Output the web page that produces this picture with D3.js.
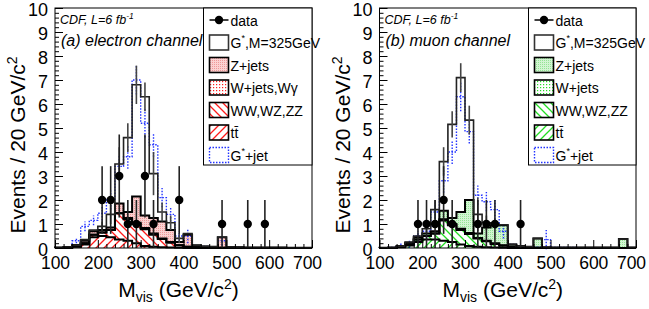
<!DOCTYPE html>
<html>
<head>
<meta charset="utf-8">
<script src="https://cdn.jsdelivr.net/npm/d3@7"></script>
<style>
  body { margin: 0; background: #fff; }
  svg { font-family: "Liberation Sans", Arial, sans-serif; }
</style>
</head>
<body>
<script>
// bin low edges, 20 GeV/c^2 bins
const binLow = [100,120,140,160,180,200,220,240,260,280,300,320,340,360,380,
                400,420,440,460,480,500,520,540,560,580,600,620,640,660,680];

// (a) electron channel
const eTT   = [0,0.01,0.05,0.15,0.45,0.5,0.45,0.35,0.3,0.2,0.08,0.05,0.03,0.02,0.01,0,0,0,0,0,0,0,0,0,0,0,0,0,0,0];
const eWW   = [0,0,0.02,0.05,0.1,0.15,0.3,1.1,0.9,0.8,0.7,0.5,0.35,0.2,0.1,0.05,0.03,0.02,0.01,0.01,0.01,0.01,0,0,0,0,0,0,0,0];
const eWJ   = [0,0,0,0,0,0,0,0,0.05,0.05,0.05,0.05,0.02,0.03,0,0,0,0,0,0,0,0,0,0,0,0,0,0,0,0];
const eZJ   = [0.02,0.03,0.05,0.1,0.15,0.1,0.1,0.4,0.25,1.1,0.52,0.65,0.7,0.5,0.14,0.5,0.07,0.04,0.04,0.44,0.03,0.02,0.02,0.02,0.02,0.02,0.02,0.01,0.01,0.01];
const eSig  = [0,0,0,0.05,0.05,0.15,0.55,1.65,3.1,4.65,4.95,1.85,0.4,0.3,0.15,0.05,0.02,0.01,0,0,0,0,0,0,0,0,0,0,0,0];
const eSigErr = [0,0,0,0,0,0.2,0.4,0.7,0.6,0.8,0.6,0.9,0.4,0.3,0.2,0,0,0,0,0,0,0,0,0,0,0,0,0,0,0];
const eGjet = [0,0.02,0.3,0.9,1.15,1.45,2.0,3.4,3.8,7.0,5.2,4.3,2.1,1.4,0.5,0.5,0.1,0.06,0.04,0.3,0.02,0.02,0.01,0.01,0.01,0.01,0.01,0.01,0.01,0];
const eGjetErr = [0,0,0.1,0.2,0.2,0.3,0.4,0.5,0.5,0.6,0.6,0.5,0.4,0.3,0.2,0.3,0,0,0,0.2,0,0,0,0,0,0,0,0,0,0];
const eDataM = [210,230,250,270,290,310,330,390,490,550,590];
const eDataN = [2,2,3,1,1,3,1,2,1,1,1];
const eDataErr = [1.41,1.41,1.73,1,1,1.73,1,1.41,1,1,1];

// (b) muon channel
const mTT   = [0,0,0.03,0.1,0.25,0.35,0.35,0.3,0.25,0.15,0.08,0.05,0.03,0.02,0.01,0,0,0,0,0,0,0,0,0,0,0,0,0,0,0];
const mWW   = [0,0,0.02,0.05,0.1,0.15,0.25,0.85,0.7,0.6,0.5,0.35,0.25,0.15,0.08,0.05,0.03,0.02,0.01,0,0,0,0,0,0,0,0,0,0,0];
const mWJ   = [0,0,0,0,0,0,0,0.05,0.05,0.05,0.05,0.02,0.02,0.03,0.02,0,0,0,0,0,0,0,0,0,0,0,0,0,0,0];
const mZJ   = [0.01,0.02,0.03,0.07,0.1,0.1,0.1,0.35,0.25,0.7,1.37,0.18,0.55,0.75,0.84,0.1,0.05,0.03,0.39,0.03,0.02,0.02,0.02,0.02,0.02,0.02,0.02,0.02,0.37,0.02];
const mSig  = [0,0,0,0.03,0.05,0.2,0.9,2.05,3.9,5.6,3.33,0.8,0.2,0.05,0.02,0,0,0,0,0,0,0,0,0,0,0,0,0,0,0];
const mSigErr = [0,0,0,0,0,0.2,0.4,0.6,0.55,0.6,0.6,0.7,0.3,0.2,0,0,0,0,0,0,0,0,0,0,0,0,0,0,0,0];
const mGjet = [0,0.02,0.1,0.15,0.5,0.7,1.5,2.8,4.0,6.3,4.85,2.2,1.93,1.6,0.7,0.15,0.05,0.03,0.03,0.35,0.02,0.02,0.02,0.01,0.01,0.01,0.01,0.01,0.01,0];
const mGjetErr = [0,0,0.1,0.15,0.2,0.3,0.4,0.5,0.5,0.6,0.5,0.4,0.4,0.4,0.3,0,0,0,0,0.4,0,0,0,0,0,0,0,0,0,0];
const mDataM = [190,210,230,250,270,330,350,370,430];
const mDataN = [1,1,1,2,1,1,1,1,1];
const mDataErr = [1,1,1,1.41,1,1,1,1,1];

const yTicks = [0,1,2,3,4,5,6,7,8,9,10];
const xTicks = [100,200,300,400,500,600,700];

const W = 649, H = 309;
const svg = d3.select("body").append("svg").attr("width", W).attr("height", H);
const defs = svg.append("defs");

function makePatterns(id, col, zBg, zDot) {
  const z = defs.append("pattern").attr("id", id + "z").attr("patternUnits", "userSpaceOnUse")
    .attr("width", 2).attr("height", 2);
  z.append("rect").attr("width", 2).attr("height", 2).attr("fill", zBg);
  z.append("rect").attr("width", 1).attr("height", 1).attr("fill", zDot);
  const w = defs.append("pattern").attr("id", id + "w").attr("patternUnits", "userSpaceOnUse")
    .attr("width", 3).attr("height", 3);
  w.append("rect").attr("width", 3).attr("height", 3).attr("fill", "#fff");
  w.append("rect").attr("width", 1.2).attr("height", 1.2).attr("fill", col);
  const b = defs.append("pattern").attr("id", id + "b").attr("patternUnits", "userSpaceOnUse")
    .attr("width", 8).attr("height", 8);
  b.append("path").attr("d", "M-2,6L2,10M0,0L8,8M6,-2L10,2").attr("stroke", col).attr("stroke-width", 1.3);
  const t = defs.append("pattern").attr("id", id + "t").attr("patternUnits", "userSpaceOnUse")
    .attr("width", 8).attr("height", 8);
  t.append("path").attr("d", "M-2,2L2,-2M0,8L8,0M6,10L10,6").attr("stroke", col).attr("stroke-width", 1.3);
}

function drawPanel(cfg) {
  const x = d3.scaleLinear().domain([100, 700]).range([cfg.x0, cfg.x1]);
  const y = d3.scaleLinear().domain([0, 10]).range([248, 8]);
  const g = svg.append("g");
  makePatterns(cfg.id, cfg.col, cfg.zBg, cfg.zDot);

  const keys = ["tt", "ww", "wj", "zj", "sig"];
  const table = binLow.map((lo, i) => ({
    lo, tt: cfg.tt[i], ww: cfg.ww[i], wj: cfg.wj[i], zj: cfg.zj[i], sig: cfg.sig[i]
  }));
  const series = d3.stack().keys(keys)(table);

  const area = d3.area().x(d => x(d.x)).y0(d => y(d.y0)).y1(d => y(d.y1));
  const fills = { tt: `url(#${cfg.id}t)`, ww: `url(#${cfg.id}b)`, wj: `url(#${cfg.id}w)`,
                  zj: `url(#${cfg.id}z)`, sig: "none" };
  const stepPts = vals => {
    const pts = [[100, 0]];
    vals.forEach((v, i) => { pts.push([binLow[i], v]); pts.push([binLow[i] + 20, v]); });
    pts.push([700, 0]);
    return pts;
  };
  const line = d3.line().x(d => x(d[0])).y(d => y(Math.min(d[1], 10)));

  series.forEach(s => {
    if (s.key === "sig") return;
    const pts = [];
    s.forEach((d, i) => {
      pts.push({ x: binLow[i], y0: d[0], y1: d[1] });
      pts.push({ x: binLow[i] + 20, y0: d[0], y1: d[1] });
    });
    g.append("path").attr("d", area(pts)).attr("fill", fills[s.key]);
  });

  // G*+jet, blue dotted
  g.append("path").attr("d", line(stepPts(cfg.gjet)))
    .attr("fill", "none").attr("stroke", "#2233ff").attr("stroke-width", 1.4)
    .attr("stroke-dasharray", "1.5,1.5");
  cfg.gjet.forEach((v, i) => {
    if (!cfg.gjetErr[i]) return;
    g.append("line").attr("x1", x(binLow[i] + 10)).attr("x2", x(binLow[i] + 10))
      .attr("y1", y(v - cfg.gjetErr[i])).attr("y2", y(v + cfg.gjetErr[i]))
      .attr("stroke", "#2233ff").attr("stroke-width", 1.4).attr("stroke-dasharray", "1.5,1.5");
  });

  // stack outlines
  series.forEach(s => {
    const vals = s.map(d => d[1]);
    g.append("path").attr("d", line(stepPts(vals))).attr("fill", "none")
      .attr("stroke", s.key === "sig" ? "#222" : "#000")
      .attr("stroke-width", s.key === "sig" ? 1.6 : 2);
  });
  // signal error bars
  const top = series[series.length - 1];
  top.forEach((d, i) => {
    if (!cfg.sigErr[i]) return;
    g.append("line").attr("x1", x(binLow[i] + 10)).attr("x2", x(binLow[i] + 10))
      .attr("y1", y(d[1] - cfg.sigErr[i])).attr("y2", y(d[1] + cfg.sigErr[i]))
      .attr("stroke", "#444").attr("stroke-width", 1.6);
  });

  // data
  cfg.dataM.forEach((m, i) => {
    const n = cfg.dataN[i], e = cfg.dataErr[i];
    g.append("line").attr("x1", x(m)).attr("x2", x(m))
      .attr("y1", y(Math.max(0, n - e))).attr("y2", y(n + e))
      .attr("stroke", "#222").attr("stroke-width", 1.6);
    g.append("circle").attr("cx", x(m)).attr("cy", y(n)).attr("r", 4.2).attr("fill", "#000");
  });

  // frame
  g.append("rect").attr("x", cfg.x0).attr("y", 8).attr("width", cfg.x1 - cfg.x0).attr("height", 240)
    .attr("fill", "none").attr("stroke", "#000").attr("stroke-width", 1);

  // axes
  const ya = g.append("g").attr("transform", `translate(${cfg.x0},0)`)
    .call(d3.axisLeft(y).tickValues(yTicks).tickSize(-8).tickPadding(7).tickFormat(d3.format("d")));
  ya.select(".domain").remove();
  ya.selectAll("text").attr("font-size", 18).attr("font-family", "Liberation Sans, Arial").attr("dy", "0.42em");
  const yMinor = d3.range(0, 10.01, 0.2).filter(v => Math.abs(v - Math.round(v)) > 0.01);
  const ym = g.append("g").attr("transform", `translate(${cfg.x0},0)`)
    .call(d3.axisLeft(y).tickValues(yMinor).tickSize(-4).tickFormat(""));
  ym.select(".domain").remove();

  const xa = g.append("g").attr("transform", "translate(0,248)")
    .call(d3.axisBottom(x).tickValues(xTicks).tickSize(-8).tickPadding(9).tickFormat(d3.format("d")));
  xa.select(".domain").remove();
  xa.selectAll("text").attr("font-size", 17.5).attr("font-family", "Liberation Sans, Arial")
    .attr("dx", d => d === 700 ? -5 : 0);
  const xm = g.append("g").attr("transform", "translate(0,248)")
    .call(d3.axisBottom(x).tickValues(binLow.filter(v => v % 100 !== 0)).tickSize(-4).tickFormat(""));
  xm.select(".domain").remove();

  // axis titles
  const xt = g.append("text").attr("x", (cfg.x0 + cfg.x1) / 2 - 5).attr("y", 297)
    .attr("text-anchor", "middle").attr("font-size", 21);
  xt.append("tspan").text("M");
  xt.append("tspan").attr("font-size", 14).attr("dy", 5).text("vis");
  xt.append("tspan").attr("dy", -5).text(" (GeV/c");
  xt.append("tspan").attr("font-size", 14).attr("dy", -8).text("2");
  xt.append("tspan").attr("dy", 8).text(")");

  const yt = g.append("text").attr("transform", `translate(${cfg.x0 - 30},145) rotate(-90)`)
    .attr("text-anchor", "middle").attr("font-size", 21);
  yt.append("tspan").text("Events / 20 GeV/c");
  yt.append("tspan").attr("font-size", 14).attr("dy", -8).text("2");

  // captions
  const c1 = g.append("text").attr("x", cfg.x0 + 5).attr("y", 24).attr("font-size", 12.5)
    .attr("font-style", "italic");
  c1.append("tspan").text("CDF, L=6 fb");
  c1.append("tspan").attr("font-size", 8.5).attr("dy", -5).text("-1");
  g.append("text").attr("x", cfg.x0 + 6).attr("y", 46).attr("font-size", 16)
    .attr("font-style", "italic").text(cfg.title);

  // legend
  const lx = cfg.lx, lw = cfg.x1 - cfg.lx;
  const lg = g.append("g");
  lg.append("rect").attr("x", lx).attr("y", 8).attr("width", lw).attr("height", 157)
    .attr("fill", "#fff").attr("stroke", "#000").attr("stroke-width", 1);
  const sx = lx + 6, sw = 19, sh = 15, tx = lx + 27;
  const rows = [
    { y: 20, type: "data", label: "data" },
    { y: 42.5, type: "sig", label: "G", sup: "*", rest: ",M=325GeV" },
    { y: 65, type: "zj", label: "Z+jets" },
    { y: 87.5, type: "wj", label: cfg.wjLabel },
    { y: 110, type: "ww", label: "WW,WZ,ZZ" },
    { y: 132.5, type: "tt", label: "tt\u0304" },
    { y: 155, type: "gjet", label: "G", sup: "*", rest: "+jet" }
  ];
  rows.forEach(r => {
    if (r.type === "data") {
      lg.append("line").attr("x1", sx).attr("x2", sx + sw).attr("y1", r.y).attr("y2", r.y)
        .attr("stroke", "#000").attr("stroke-width", 1.5);
      lg.append("circle").attr("cx", sx + sw / 2).attr("cy", r.y).attr("r", 4.2).attr("fill", "#000");
    } else if (r.type === "gjet") {
      lg.append("rect").attr("x", sx).attr("y", r.y - sh / 2).attr("width", sw).attr("height", sh)
        .attr("fill", "#fff").attr("stroke", "#2233ff").attr("stroke-width", 1.4)
        .attr("stroke-dasharray", "1.5,1.5");
    } else {
      lg.append("rect").attr("x", sx).attr("y", r.y - sh / 2).attr("width", sw).attr("height", sh)
        .attr("fill", r.type === "sig" ? "#fff" : fills[r.type])
        .attr("stroke", r.type === "sig" ? "#333" : "#000").attr("stroke-width", 1.6);
    }
    const t = lg.append("text").attr("x", tx).attr("y", r.y + 5.5).attr("font-size", 14);
    t.append("tspan").text(r.label);
    if (r.sup) {
      t.append("tspan").attr("font-size", 9).attr("dy", -7).text(r.sup);
      t.append("tspan").attr("dy", 7).text(r.rest);
    }
  });
}

drawPanel({
  id: "e", x0: 55, x1: 312, lx: 203.5, col: "#ff1a1a", zBg: "#fbd2d2", zDot: "#ee9a9a",
  tt: eTT, ww: eWW, wj: eWJ, zj: eZJ, sig: eSig, sigErr: eSigErr,
  gjet: eGjet, gjetErr: eGjetErr, dataM: eDataM, dataN: eDataN, dataErr: eDataErr,
  title: "(a) electron channel", wjLabel: "W+jets,W\u03b3"
});
drawPanel({
  id: "m", x0: 379.5, x1: 636, lx: 528.5, col: "#22dd22", zBg: "#d2f5d2", zDot: "#95e495",
  tt: mTT, ww: mWW, wj: mWJ, zj: mZJ, sig: mSig, sigErr: mSigErr,
  gjet: mGjet, gjetErr: mGjetErr, dataM: mDataM, dataN: mDataN, dataErr: mDataErr,
  title: "(b) muon channel", wjLabel: "W+jets"
});
</script>
</body>
</html>
